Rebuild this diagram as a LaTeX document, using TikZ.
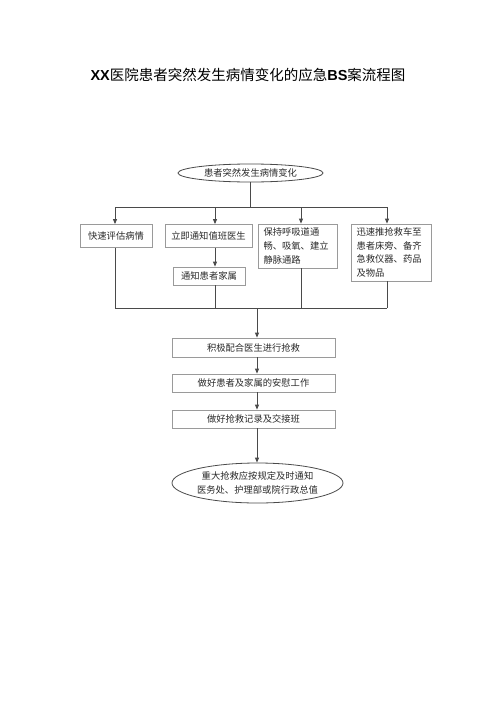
\documentclass[tikz,border=0pt]{standalone}
\usepackage{fontspec}
\setmainfont{Liberation Sans}
\newfontfamily\cjk{Noto Sans CJK SC}
\usetikzlibrary{shapes.geometric,arrows.meta}
\definecolor{linec}{HTML}{4A4A4A}
\definecolor{boxc}{HTML}{9A9A9A}
\definecolor{txtc}{HTML}{2A2A2A}
\tikzset{
  box/.style={draw=boxc, line width=0.8pt, inner sep=0pt, font=\cjk\fontsize{9.3}{13.8}\selectfont, text=txtc},
  oval/.style={ellipse, draw=linec, line width=0.8pt, inner sep=0pt, font=\cjk\fontsize{9.3}{13.8}\selectfont, text=txtc},
  conn/.style={draw=linec, line width=0.9pt},
  arr/.style={conn, -{Triangle[length=5pt,width=4pt]}},
}
\begin{document}
\begin{tikzpicture}[x=1pt,y=-1pt]
\useasboundingbox[fill=white] (0,0) rectangle (500,707);
% title
\node (title) at (248,75) {\fontsize{14.5}{16}\selectfont\textbf{XX}{\cjk 医院患者突然发生病情变化的应急}\textbf{BS}{\cjk 案流程图}};
% top ellipse
\node[oval, minimum width=145pt, minimum height=18pt] (start) at (250.5,173) {患者突然发生病情变化};
% first row boxes
\node[box, minimum width=72pt, minimum height=23pt] (b1) at (116,236) {快速评估病情};
\node[box, minimum width=87pt, minimum height=23pt] (b2) at (208.5,236) {立即通知值班医生};
\node[box, minimum width=79pt, minimum height=44pt, text width=68pt, align=left] (b3) at (297.5,246) {保持呼吸道通\\畅、吸氧、建立\\静脉通路};
\node[box, minimum width=80pt, minimum height=57pt, text width=69pt, align=left] (b4) at (391,252.5) {迅速推抢救车至\\患者床旁、备齐\\急救仪器、药品\\及物品};
\node[box, minimum width=72pt, minimum height=18pt] (b5) at (209,276) {通知患者家属};
% lower chain
\node[box, minimum width=163pt, minimum height=19pt] (ba) at (253.5,347.5) {积极配合医生进行抢救};
\node[box, minimum width=163pt, minimum height=18pt] (bb) at (253.5,383) {做好患者及家属的安慰工作};
\node[box, minimum width=163pt, minimum height=18pt] (bc) at (253.5,419) {做好抢救记录及交接班};
\node[oval, minimum width=171pt, minimum height=40pt, align=center] (end) at (257.5,483) {重大抢救应按规定及时通知\\医务处、护理部或院行政总值};
% bus coordinates
\coordinate (t0) at (250.5,207);
\coordinate (t1) at (115,207);
\coordinate (t2) at (215,207);
\coordinate (t3) at (301,207);
\coordinate (t4) at (387,207);
\coordinate (u1) at (115,308);
\coordinate (u2) at (215,308);
\coordinate (u3) at (301,308);
\coordinate (u4) at (387,308);
\coordinate (u0) at (257,308);
% connectors top
\draw[conn] (start.south) -- (t0);
\draw[conn] (t1) -- (t4);
\draw[arr] (t1) -- (t1 |- b1.north);
\draw[arr] (t2) -- (t2 |- b2.north);
\draw[arr] (t3) -- (t3 |- b3.north);
\draw[arr] (t4) -- (t4 |- b4.north);
\draw[arr] (t2 |- b2.south) -- (t2 |- b5.north);
% connectors bottom
\draw[conn] (u1 |- b1.south) -- (u1);
\draw[conn] (u2 |- b5.south) -- (u2);
\draw[conn] (u3 |- b3.south) -- (u3);
\draw[conn] (u4 |- b4.south) -- (u4);
\draw[conn] (u1) -- (u4);
\draw[arr] (u0) -- (u0 |- ba.north);
\draw[arr] (u0 |- ba.south) -- (u0 |- bb.north);
\draw[arr] (u0 |- bb.south) -- (u0 |- bc.north);
\draw[arr] (u0 |- bc.south) -- (u0 |- end.north);
\end{tikzpicture}
\end{document}
